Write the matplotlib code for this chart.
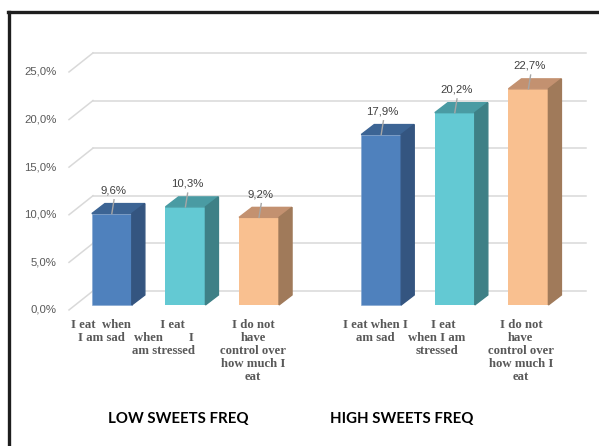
import numpy as np
import matplotlib.pyplot as plt
from matplotlib.patches import Polygon

# data
groups = ['LOW SWEETS FREQ', 'HIGH SWEETS FREQ']
categories = ['I eat  when\nI am sad', '     I eat\nwhen        I\nam stressed',
              'I do not\nhave\ncontrol over\nhow much I\neat']
categories_high = ['I eat when I\nam sad', '    I eat\nwhen I am\nstressed',
                   'I do not\nhave\ncontrol over\nhow much I\neat']
low_vals = [9.6, 10.3, 9.2]
high_vals = [17.9, 20.2, 22.7]
yticks = [0, 5, 10, 15, 20, 25]

front = ['#4f81bd', '#63c9d3', '#f9c090']
top = ['#3c6494', '#4a9ba3', '#c39170']
side = ['#345580', '#3e8086', '#a07a5a']

# projection settings (x in category units, y in percent)
xpos_low = np.arange(3) + 0.5
xpos_high = np.arange(3) + 4.16
x_end = 6.70
wall_dx, wall_dy = 0.326, 2.0
bar_sx, bar_sy = 0.082, 0.525
bar_dx, bar_dy = 0.177, 1.05
bar_w = 0.543
grid_c = '#d9d9d9'
tick_c = '#595959'

fig = plt.figure(figsize=(5.99, 4.46), dpi=100)
ax = fig.add_axes([0, 0, 1, 1])
ax.set_xlim(-0.9375, 7.2011)
ax.set_ylim(-14.29, 32.56)
ax.axis('off')

# back wall gridlines with the slanted stubs
for t in yticks:
    ax.plot([0, wall_dx], [t, t + wall_dy], color=grid_c, lw=1.1, zorder=1)
    ax.plot([wall_dx, x_end + wall_dx], [t + wall_dy, t + wall_dy], color=grid_c, lw=1.1, zorder=1)
    ax.text(-0.17, t, f'{t:.1f}%'.replace('.', ','), ha='right', va='center',
            fontsize=8.2, color=tick_c, family='Liberation Sans')


def bar3d(xc, v, i):
    x0 = xc - bar_w / 2 + bar_sx
    x1 = x0 + bar_w
    y0 = bar_sy
    y1 = v + bar_sy
    ax.bar(x0, v, width=bar_w, bottom=y0, align='edge', color=front[i], zorder=3,
           edgecolor='#7fa3cf' if i == 0 else None, lw=0.4)
    ax.add_patch(Polygon([(x0, y1), (x1, y1), (x1 + bar_dx, y1 + bar_dy), (x0 + bar_dx, y1 + bar_dy)],
                         closed=True, color=top[i], zorder=3))
    ax.add_patch(Polygon([(x1, y0), (x1 + bar_dx, y0 + bar_dy), (x1 + bar_dx, y1 + bar_dy), (x1, y1)],
                         closed=True, color=side[i], zorder=3))
    xm = (x0 + x1) / 2
    ax.plot([xm, xm + 0.03], [y1, y1 + 1.45], color='#a6a6a6', lw=1, zorder=4)
    ax.text(xm + 0.02, y1 + 2.45, f'{v:.1f}%'.replace('.', ','), ha='center', va='center',
            fontsize=8.2, color='#404040', family='Liberation Sans', zorder=4)


for i, v in enumerate(low_vals):
    bar3d(xpos_low[i], v, i)
for i, v in enumerate(high_vals):
    bar3d(xpos_high[i], v, i)

# category labels
label_nudge = [-0.06, -0.21, 0.0]
label_nudge_high = [0.0, -0.16, -0.02]
for i, lab in enumerate(categories):
    ax.text(xpos_low[i] + label_nudge[i], -0.95, lab, ha='center', va='top',
            fontsize=9.2, fontweight='bold', color='#595959', family='Liberation Serif',
            linespacing=1.12)
for i, lab in enumerate(categories_high):
    ax.text(xpos_high[i] + label_nudge_high[i], -0.95, lab, ha='center', va='top',
            fontsize=9.2, fontweight='bold', color='#595959', family='Liberation Serif',
            linespacing=1.12)

# group titles
ax.text(1.49, -11.45, groups[0], ha='center', va='center', fontsize=10.8,
        fontweight='bold', color='black', family='Lato')
ax.text(4.52, -11.45, groups[1], ha='center', va='center', fontsize=10.8,
        fontweight='bold', color='black', family='Lato')

# frame
fig.add_artist(plt.Line2D([9 / 599, 9 / 599], [0, 1 - 12 / 446], color='#1e1e1e', lw=2.4))
fig.add_artist(plt.Line2D([8 / 599, 1], [1 - 12 / 446, 1 - 12 / 446], color='#1e1e1e', lw=2.4))

fig.savefig('out.png', dpi=100)
